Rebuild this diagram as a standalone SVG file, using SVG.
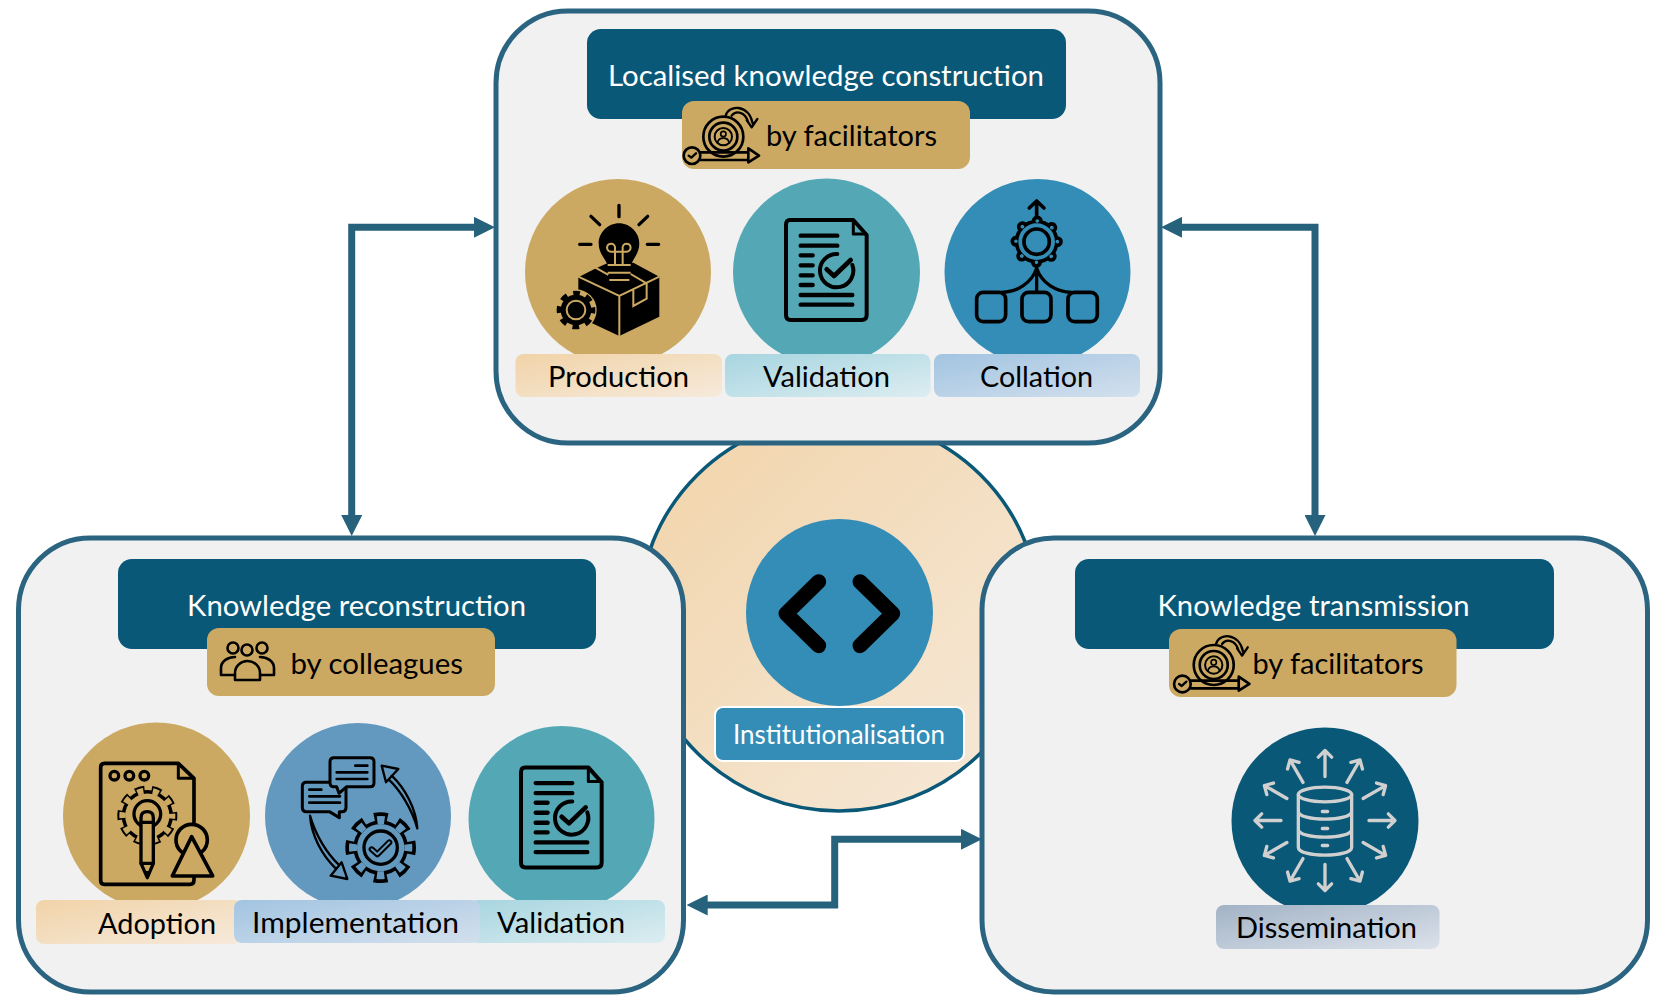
<svg xmlns="http://www.w3.org/2000/svg" xmlns:xlink="http://www.w3.org/1999/xlink" width="1667" height="997" viewBox="0 0 1667 997">
<style>
text{font-family:"Lato","Open Sans","Liberation Sans",sans-serif;font-size:28px;fill:#000}
.h{fill:#fff;font-size:29px}
.panel{fill:#f1f1f1;stroke:#2a6480;stroke-width:5}
.head{fill:#0a5878}
.pill{fill:#cca962}
.k{fill:none;stroke:#000;stroke-linecap:round;stroke-linejoin:round}
.conn{fill:none;stroke:#26627c;stroke-width:7;marker-start:url(#tip);marker-end:url(#tip)}
</style>
<defs>
<marker id="tip" markerUnits="userSpaceOnUse" viewBox="0 0 21 21" markerWidth="21" markerHeight="21" refX="6" refY="10.5" orient="auto-start-reverse"><path d="M0,0L21,10.5L0,21Z" fill="#26627c"/></marker>
<linearGradient id="gOrange" x1="0" y1="0" x2="1" y2="1"><stop offset="0" stop-color="#f1d3a8"/><stop offset="1" stop-color="#f6eadb"/></linearGradient>
<linearGradient id="gTeal" x1="0" y1="0" x2="1" y2="1"><stop offset="0" stop-color="#a7d5e0"/><stop offset="1" stop-color="#dcedf1"/></linearGradient>
<linearGradient id="gBlue" x1="0" y1="0" x2="1" y2="1"><stop offset="0" stop-color="#a2c4e1"/><stop offset="1" stop-color="#d3e0ed"/></linearGradient>
<linearGradient id="gSlate" x1="0" y1="0" x2="1" y2="1"><stop offset="0" stop-color="#a2b3c6"/><stop offset="1" stop-color="#dbe1ea"/></linearGradient>
<g id="docIcon" class="k">
<path stroke-width="12" d="M90,60H280L320,105V345Q320,360 305,360H92Q78,360 78,345V75Q78,60 90,60Z"/>
<path stroke-width="9" d="M280,62V102H318"/>
<path stroke-width="13" d="M122,107H232M122,137H232M122,166H158M122,196H158M122,226H158M122,255H158M122,285H277M122,314H277"/>
<path stroke-width="12" d="M232,162A50,50 0 1 0 277,195"/>
<path stroke-width="14" d="M200,208L222,228L272,180"/>
</g>
<g id="facIcon" class="k" stroke-width="8">
<circle cx="130" cy="125" r="60"/><circle cx="130" cy="125" r="42"/><circle cx="130" cy="125" r="26" stroke-width="6"/>
<circle cx="130" cy="117" r="8" stroke-width="5"/><path stroke-width="5" d="M113,142C116,125 144,125 147,142"/>
<path stroke-width="7" d="M137,62C145,30 205,25 218,85M155,62C168,45 195,50 204,80M200,75L215,97L232,72"/>
<circle cx="36" cy="182" r="25"/><path stroke-width="7" d="M26,182L34,188L48,175"/>
<path d="M61,172H205M61,195H205M205,160L237,182L205,202Z"/>
</g>
<path id="ray" fill="none" stroke="#d0d0d0" stroke-width="10" stroke-linecap="round" stroke-linejoin="round" d="M225,108V32M205,50L225,30L245,50"/>
</defs>

<g id="institutionalisation">
<ellipse cx="839" cy="614" rx="200" ry="197" fill="url(#gOrange)" stroke="#0a5878" stroke-width="3.5"/>
<circle cx="839.5" cy="612.5" r="93.5" fill="#338db6"/>
<path d="M818.7,581.7L786,613.7L818.7,645.7M860,581.7L892.7,613.7L860,645.7" fill="none" stroke="#000" stroke-width="15" stroke-linecap="round" stroke-linejoin="round"/>
<rect x="715" y="707" width="249" height="54" rx="8" fill="#338db6" stroke="#fff" stroke-width="2"/>
<text class="h" style="font-size:27px" x="733" y="744" textLength="212" lengthAdjust="spacingAndGlyphs">Institutionalisation</text>
</g>

<g id="localised-knowledge-construction">
<rect class="panel" x="496" y="11" width="664" height="432" rx="72"/>
<rect class="head" x="587" y="29" width="479" height="90" rx="14"/>
<text class="h" x="608" y="85.500" textLength="436" lengthAdjust="spacingAndGlyphs">Localised knowledge construction</text>
<rect class="pill" x="682" y="101" width="288" height="68" rx="12"/>
<use href="#facIcon" transform="translate(680 95) scale(.3333)"/>
<text x="766" y="146" textLength="171" lengthAdjust="spacingAndGlyphs">by facilitators</text>

<g id="production">
<circle cx="618" cy="272" r="93" fill="#cca962"/>
<g transform="translate(540 190) scale(.3333)">
<path class="k" stroke-width="10" d="M237,46V80M153,79L179,104M323,79L297,104M119,163H153M322,163H356"/>
<path d="M115,262L165,236L205,218H280L358,260V380L238,438L115,380Z" fill="#000"/>
<path d="M237,100C270,100 298,128 298,160C298,190 280,205 273,225V280L258,295H218L203,280V225C195,205 176,190 176,160C176,128 204,100 237,100Z" fill="#000"/>
<path fill="none" stroke="#cca962" stroke-width="6" d="M115,260L238,318L358,260M238,318V438M280,295V348L320,326V280M165,232L205,255M272,252L320,280M225,225V175A12,12 0 1 0 213,185H260A12,12 0 1 0 248,175V225M203,225H272M203,248H272M208,270H268"/>
<circle cx="108" cy="360" r="62" fill="#cca962"/>
<circle cx="108" cy="360" r="46" fill="#000"/>
<circle cx="108" cy="360" r="50" fill="none" stroke="#000" stroke-width="16" stroke-dasharray="20 19.3" stroke-dashoffset="10"/>
<circle cx="108" cy="360" r="28" fill="none" stroke="#cca962" stroke-width="6"/>
</g>
<rect x="515.5" y="354" width="206.5" height="43" rx="8" fill="url(#gOrange)"/>
<text x="548" y="386.500" textLength="141" lengthAdjust="spacingAndGlyphs">Production</text>
</g>

<g id="validation-top">
<circle cx="826.5" cy="272" r="93.5" fill="#54a8b6"/>
<use href="#docIcon" transform="translate(760 200) scale(.3333)"/>
<rect x="725" y="354" width="205.500" height="43" rx="8" fill="url(#gTeal)"/>
<text x="763" y="386.500" textLength="127" lengthAdjust="spacingAndGlyphs">Validation</text>
</g>

<g id="collation">
<circle cx="1037.5" cy="272" r="93" fill="#338db6"/>
<g transform="translate(760 200) scale(.3333)">
<path class="k" stroke-width="11" d="M830,55V8M808,24L830,3L852,24"/>
<circle cx="830" cy="125" r="66" fill="#000"/>
<circle cx="830" cy="125" r="62" fill="none" stroke="#000" stroke-width="33" stroke-linecap="round" stroke-dasharray="0.01 48.69"/>
<circle cx="830" cy="125" r="62" fill="none" stroke="#338db6" stroke-width="11" stroke-linecap="round" stroke-dasharray="0.01 48.69"/>
<circle cx="830" cy="125" r="55" fill="#338db6"/>
<circle cx="830" cy="125" r="38" fill="none" stroke="#000" stroke-width="11"/>
<path class="k" stroke-width="10" d="M830,205V277M830,205C815,250 770,277 725,277M830,205C845,250 890,277 935,277"/>
<g class="k" stroke-width="11"><rect x="650" y="277" width="87" height="88" rx="20"/><rect x="786" y="277" width="87" height="88" rx="20"/><rect x="924" y="277" width="88" height="88" rx="20"/></g>
</g>
<rect x="934" y="354" width="206" height="43" rx="8" fill="url(#gBlue)"/>
<text x="980" y="386.500" textLength="113" lengthAdjust="spacingAndGlyphs">Collation</text>
</g>
</g>

<g id="knowledge-reconstruction">
<rect class="panel" x="18.500" y="538" width="665" height="454" rx="72"/>
<rect class="head" x="118" y="559" width="478" height="90" rx="14"/>
<text class="h" x="187" y="615.500" textLength="339" lengthAdjust="spacingAndGlyphs">Knowledge reconstruction</text>
<rect class="pill" x="207" y="628" width="288" height="68" rx="12"/>
<g class="k" stroke-width="2.600">
<circle cx="233" cy="648" r="5.500"/><circle cx="247" cy="650" r="5.500"/><circle cx="262" cy="648" r="5.500"/>
<path d="M221,675V668C221,661 228,657 235,657M274,675V668C274,661 267,657 260,657M221,675H234M261,675H274"/>
<path d="M235,680V673C235,666 241,661 247.500,661C254,661 260,666 260,673V680Z"/>
</g>
<text x="290.500" y="673.500" textLength="172.500" lengthAdjust="spacingAndGlyphs">by colleagues</text>

<g id="adoption">
<circle cx="156.500" cy="816" r="93.500" fill="#cca962"/>
<g transform="translate(85 745) scale(.3333)">
<g class="k">
<path stroke-width="11" d="M58,55H280L327,100V405Q327,418 315,418H58Q47,418 47,405V68Q47,55 58,55Z"/>
<path stroke-width="9" d="M280,58V100H325"/>
<g stroke-width="10"><circle cx="88" cy="92" r="13"/><circle cx="133" cy="92" r="13"/><circle cx="178" cy="92" r="13"/></g>
</g>
<circle cx="187" cy="212" r="77" fill="#000"/>
<circle cx="187" cy="212" r="80" fill="none" stroke="#000" stroke-width="20" stroke-dasharray="28 22.270" stroke-dashoffset="14"/>
<circle cx="187" cy="212" r="66.500" fill="#cca962"/>
<circle cx="187" cy="212" r="74.500" fill="none" stroke="#cca962" stroke-width="19" stroke-dasharray="18 28.810" stroke-dashoffset="9"/>
<circle class="k" cx="187" cy="207" r="40" stroke-width="10"/>
<path class="k" stroke-width="10" style="fill:#cca962" d="M168,355V218Q168,200 187,200Q205,200 205,218V355L187,398Z"/>
<path class="k" stroke-width="10" d="M168,232H205M168,355H205"/>
<path d="M178,378L187,398L196,378Z" fill="#000"/>
<circle class="k" style="fill:#cca962" cx="320" cy="285" r="47" stroke-width="11"/>
<path class="k" style="fill:#cca962" stroke-width="11" d="M320,275L383,393H262Z"/>
</g>
</g>

<g id="implementation">
<circle cx="358" cy="816" r="93" fill="#6399bf"/>
<g transform="translate(290 745) scale(.3333)">
<circle cx="272" cy="308" r="82" fill="#000"/>
<circle cx="272" cy="308" r="92" fill="none" stroke="#000" stroke-width="28" stroke-dasharray="40 32.250" stroke-dashoffset="20"/>
<circle cx="272" cy="308" r="71" fill="#6399bf"/>
<circle cx="272" cy="308" r="83" fill="none" stroke="#6399bf" stroke-width="24" stroke-dasharray="22 43.180" stroke-dashoffset="11"/>
<circle class="k" cx="272" cy="308" r="50" stroke-width="10"/>
<path class="k" stroke-width="18" d="M245,313L262,328L298,292"/>
<path fill="none" stroke="#6399bf" stroke-width="6" stroke-linejoin="round" stroke-linecap="round" d="M245,313L262,328L298,292"/>
<g class="k" stroke-width="9">
<path style="fill:#6399bf" d="M49,112H156Q168,112 168,124V188Q168,200 156,200H148V218L118,200H49Q37,200 37,188V124Q37,112 49,112Z"/>
<path stroke-width="8" d="M58,134H94M58,154H150M58,173H150"/>
<path style="fill:#6399bf" d="M132,38H240Q252,38 252,50V113Q252,125 240,125H170L147,145L140,125H132Q120,125 120,113V50Q120,38 132,38Z"/>
<path stroke-width="8" d="M196,62H232M140,82H232M140,102H232"/>
<path stroke-width="7" d="M382,250C378,190 345,130 305,92M382,250C365,190 330,135 296,103M275,62L325,72L288,112Z"/>
<path stroke-width="7" d="M60,212C64,272 97,332 137,370M60,212C77,272 112,327 146,359M172,402L122,392L155,352Z"/>
</g>
</g>
</g>

<g id="validation-bottom">
<circle cx="561.500" cy="819" r="93" fill="#54a8b6"/>
<use href="#docIcon" transform="translate(495 747.400) scale(.3333)"/>
</g>
<rect x="36" y="900" width="206" height="44" rx="8" fill="url(#gOrange)"/>
<text x="98" y="933.500" textLength="118" lengthAdjust="spacingAndGlyphs">Adoption</text>
<rect x="470" y="900" width="195" height="43" rx="8" fill="url(#gTeal)"/>
<text x="497" y="932.500" textLength="128" lengthAdjust="spacingAndGlyphs">Validation</text>
<rect x="234" y="900" width="246" height="43" rx="8" fill="url(#gBlue)"/>
<text x="252" y="932.500" textLength="207" lengthAdjust="spacingAndGlyphs">Implementation</text>
</g>

<g id="knowledge-transmission">
<rect class="panel" x="982" y="538" width="665.500" height="454" rx="72"/>
<rect class="head" x="1075" y="559" width="479" height="90" rx="14"/>
<text class="h" x="1157.500" y="615.500" textLength="312" lengthAdjust="spacingAndGlyphs">Knowledge transmission</text>
<rect class="pill" x="1169" y="629" width="287.500" height="68" rx="12"/>
<use href="#facIcon" transform="translate(1170.400 623.300) scale(.3333)"/>
<text x="1252.500" y="673.500" textLength="171" lengthAdjust="spacingAndGlyphs">by facilitators</text>
<g id="dissemination">
<circle cx="1325" cy="821" r="93.500" fill="#0a5878"/>
<g transform="translate(1250 740.500) scale(.3333)">
<use href="#ray"/><use href="#ray" transform="rotate(30 225 240)"/><use href="#ray" transform="rotate(60 225 240)"/><use href="#ray" transform="rotate(90 225 240)"/><use href="#ray" transform="rotate(120 225 240)"/><use href="#ray" transform="rotate(150 225 240)"/><use href="#ray" transform="rotate(180 225 240)"/><use href="#ray" transform="rotate(210 225 240)"/><use href="#ray" transform="rotate(240 225 240)"/><use href="#ray" transform="rotate(270 225 240)"/><use href="#ray" transform="rotate(300 225 240)"/><use href="#ray" transform="rotate(330 225 240)"/>
<g fill="none" stroke="#d0d0d0" stroke-width="10" stroke-linecap="round">
<ellipse cx="225" cy="162" rx="80" ry="22"/>
<path d="M145,162V320C145,352 305,352 305,320V162M145,212C145,244 305,244 305,212M145,266C145,298 305,298 305,266M217,213H233M217,264H233M217,315H233"/>
</g>
</g>
<rect x="1216" y="905" width="223.500" height="44" rx="8" fill="url(#gSlate)"/>
<text x="1236" y="938" textLength="181" lengthAdjust="spacingAndGlyphs">Dissemination</text>
</g>
</g>

<g id="connectors">
<path class="conn" d="M351.700,521V227.300H480"/>
<path class="conn" d="M1315,521V227.300H1176"/>
<path class="conn" d="M701.700,905H834.700V839.300H967"/>
</g>
</svg>
